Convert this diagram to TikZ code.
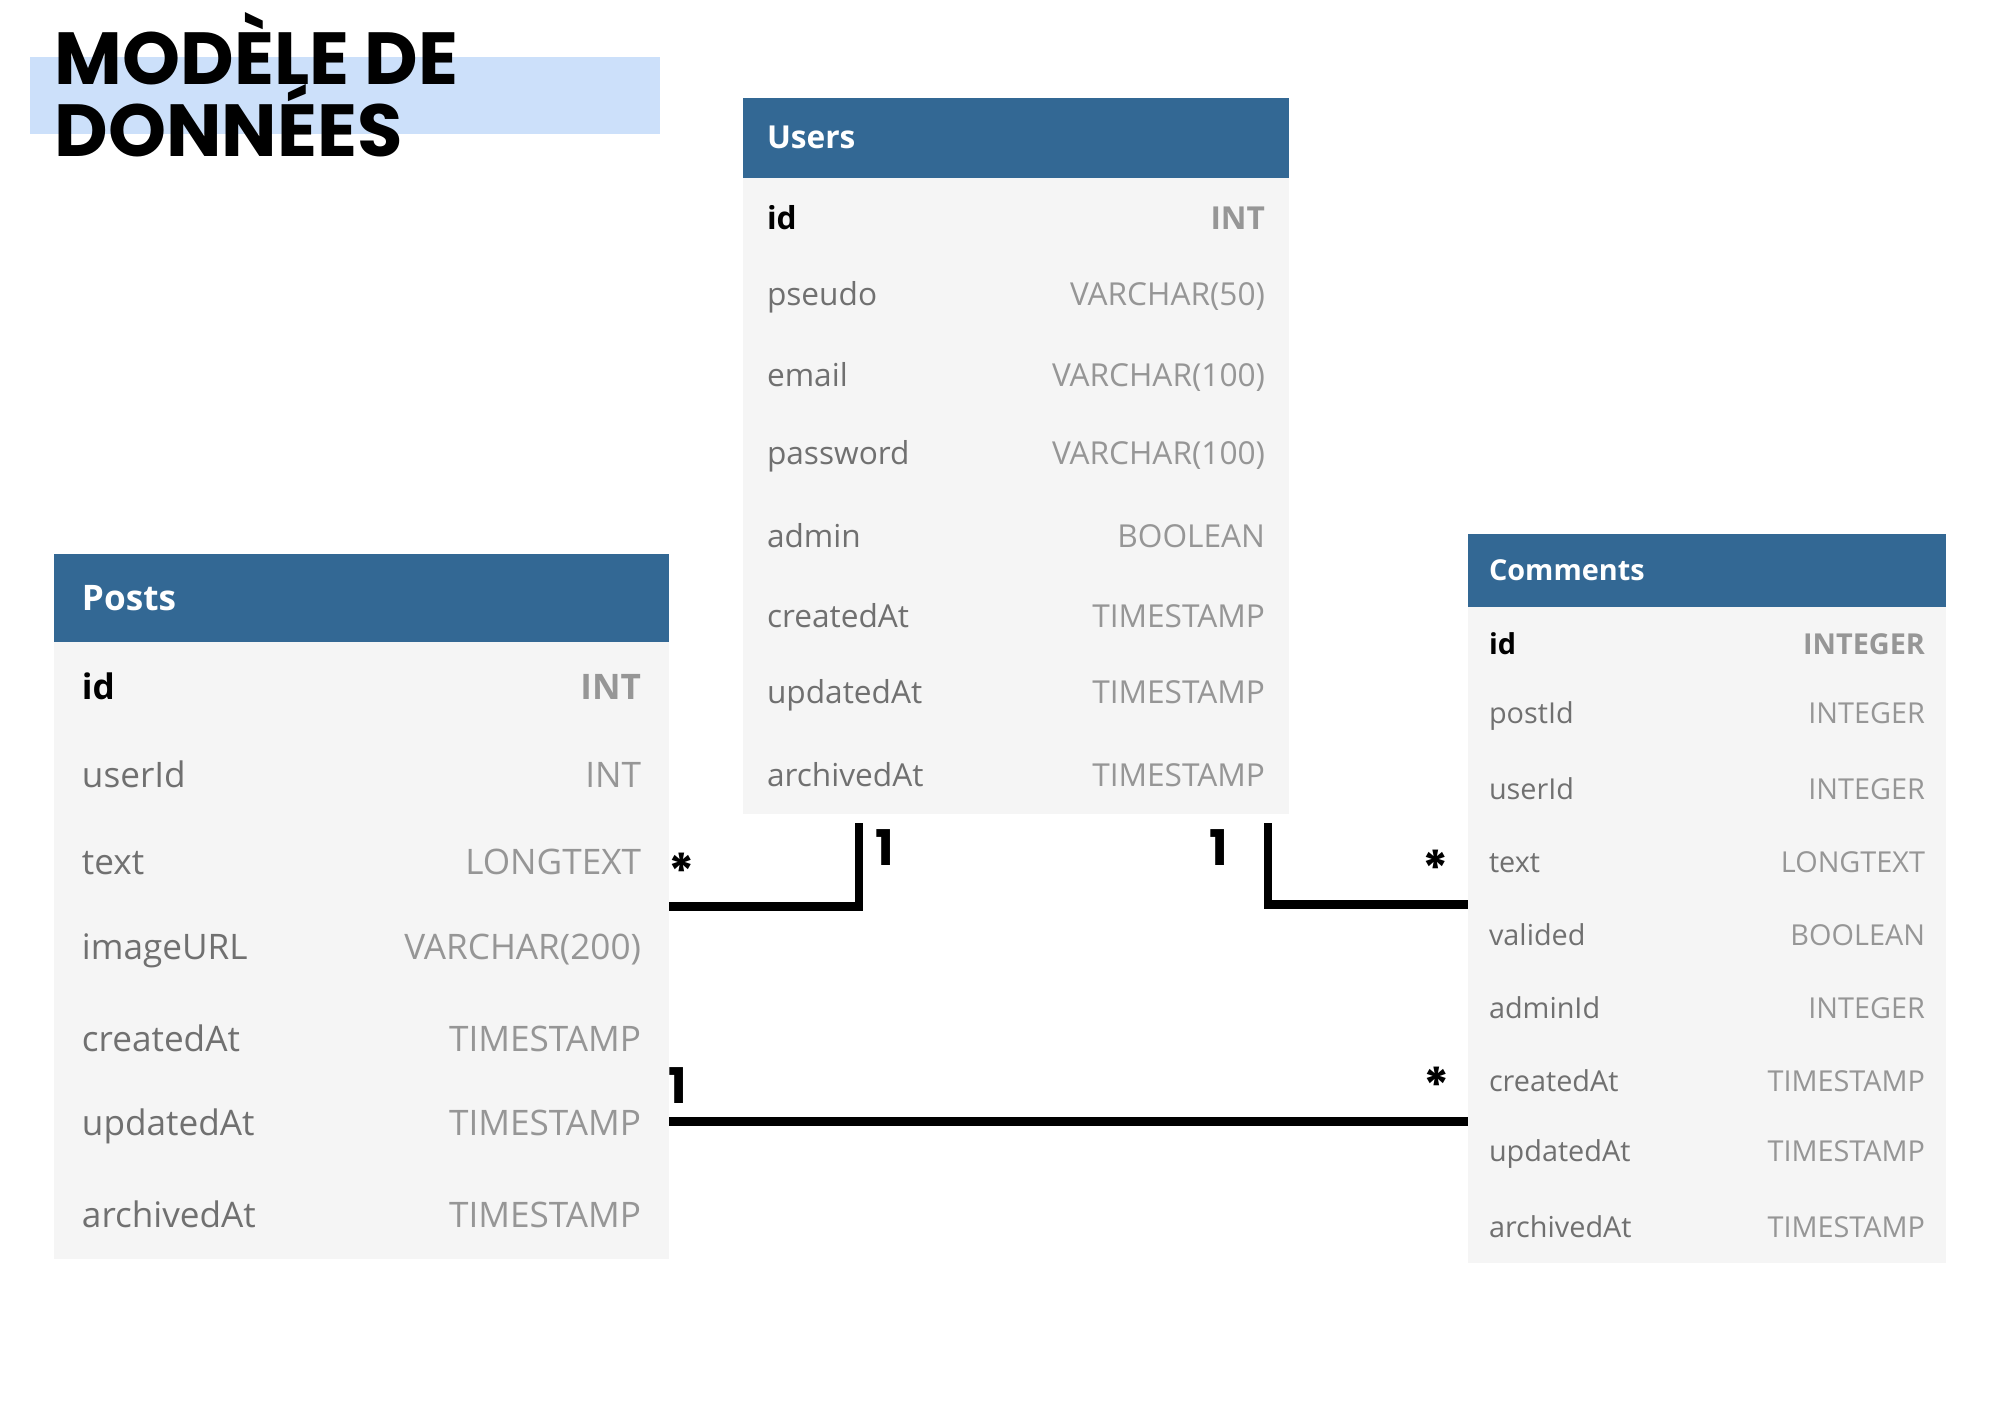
\documentclass[tikz,border=0pt]{standalone}
\usepackage{fontspec}
\setmainfont{Open Sans}
\newfontfamily\titlefont{Poppins}
\usetikzlibrary{positioning}
\definecolor{headblue}{RGB}{51,104,148}
\definecolor{rowgray}{RGB}{245,245,245}
\definecolor{namegray}{RGB}{112,112,112}
\definecolor{typegray}{RGB}{150,150,150}
\definecolor{bandblue}{RGB}{204,224,250}
\newcommand{\sqltype}[1]{{\color{typegray}#1}}
\newcommand{\keyfield}[2]{\textbf{\color{black}#1}\hfill\textbf{\sqltype{#2}}}
\tikzstyle{head} = [rectangle, fill=headblue, text=white, inner ysep=0pt, outer sep=0pt]
\tikzstyle{field} = [rectangle, fill=rowgray, text=namegray, inner ysep=0pt, outer sep=0pt]
\tikzstyle{usertab} = [text width=4.98cm, inner xsep=0.24cm, minimum height=0.796cm, font=\fontsize{9}{11}\selectfont]
\tikzstyle{posttab} = [text width=5.59cm, inner xsep=0.28cm, minimum height=0.881cm, font=\fontsize{10}{12}\selectfont]
\tikzstyle{commenttab} = [text width=4.36cm, inner xsep=0.21cm, minimum height=0.729cm, font=\fontsize{8.2}{10}\selectfont]
\tikzstyle{titletext} = [font=\titlefont\bfseries\fontsize{21}{21}\selectfont, inner sep=0pt, anchor=base west]
\tikzstyle{mult} = [font=\titlefont\bfseries\fontsize{14}{14}\selectfont, inner sep=0pt, anchor=base]
\tikzstyle{link} = [line width=2.4pt]
\begin{document}
\begin{tikzpicture}[node distance=0pt]
  \useasboundingbox (0,0) rectangle (20,-14.14);
  % title
  \node(band)[fill=bandblue, minimum width=6.30cm, minimum height=0.77cm, inner sep=0pt, anchor=north west] at (0.29,-0.56){};
  \node(title1)[titletext] at (0.54,-0.84){MODÈLE DE};
  \node(title2)[titletext] at (0.54,-1.56){DONNÉES};

  % Users
  \node(users)[head, usertab, anchor=north west] at (7.43,-0.98){\textbf{Users}};
  \node(uid)[field, usertab, below=of users]{\keyfield{id}{INT}};
  \node(upseudo)[field, usertab, below=of uid]{pseudo\hfill\sqltype{VARCHAR(50)}};
  \node(uemail)[field, usertab, below=of upseudo]{email\hfill\sqltype{VARCHAR(100)}};
  \node(upassword)[field, usertab, below=of uemail]{password\hfill\sqltype{VARCHAR(100)}};
  \node(uadmin)[field, usertab, below=of upassword]{admin\hfill\sqltype{BOOLEAN}};
  \node(ucreated)[field, usertab, below=of uadmin]{createdAt\hfill\sqltype{TIMESTAMP}};
  \node(uupdated)[field, usertab, below=of ucreated]{updatedAt\hfill\sqltype{TIMESTAMP}};
  \node(uarchived)[field, usertab, below=of uupdated]{archivedAt\hfill\sqltype{TIMESTAMP}};

  % Posts
  \node(posts)[head, posttab, anchor=north west] at (0.54,-5.54){\textbf{Posts}};
  \node(pid)[field, posttab, below=of posts]{\keyfield{id}{INT}};
  \node(puserid)[field, posttab, below=of pid]{userId\hfill\sqltype{INT}};
  \node(ptext)[field, posttab, below=of puserid]{text\hfill\sqltype{LONGTEXT}};
  \node(pimage)[field, posttab, below=of ptext]{imageURL\hfill\sqltype{VARCHAR(200)}};
  \node(pcreated)[field, posttab, below=of pimage]{createdAt\hfill\sqltype{TIMESTAMP}};
  \node(pupdated)[field, posttab, below=of pcreated]{updatedAt\hfill\sqltype{TIMESTAMP}};
  \node(parchived)[field, posttab, below=of pupdated]{archivedAt\hfill\sqltype{TIMESTAMP}};

  % Comments
  \node(comments)[head, commenttab, anchor=north west] at (14.68,-5.34){\textbf{Comments}};
  \node(cid)[field, commenttab, below=of comments]{\keyfield{id}{INTEGER}};
  \node(cpostid)[field, commenttab, below=of cid]{postId\hfill\sqltype{INTEGER}};
  \node(cuserid)[field, commenttab, below=of cpostid]{userId\hfill\sqltype{INTEGER}};
  \node(ctext)[field, commenttab, below=of cuserid]{text\hfill\sqltype{LONGTEXT}};
  \node(cvalided)[field, commenttab, below=of ctext]{valided\hfill\sqltype{BOOLEAN}};
  \node(cadmin)[field, commenttab, below=of cvalided]{adminId\hfill\sqltype{INTEGER}};
  \node(ccreated)[field, commenttab, below=of cadmin]{createdAt\hfill\sqltype{TIMESTAMP}};
  \node(cupdated)[field, commenttab, below=of ccreated]{updatedAt\hfill\sqltype{TIMESTAMP}};
  \node(carchived)[field, commenttab, below=of cupdated]{archivedAt\hfill\sqltype{TIMESTAMP}};

  % relations
  \draw[link] (ptext.south east) -| ([xshift=1.16cm, yshift=-0.09cm]uarchived.south west);
  \draw[link] ([xshift=-0.21cm, yshift=-0.09cm]uarchived.south east) |- ([yshift=-0.06cm]ctext.south west);
  \draw[link] ([yshift=0.05cm]pupdated.east) -- ([yshift=0.05cm]pupdated.east -| cupdated.west);

  \node(star1)[mult] at (6.82,-8.89){*};
  \node(one1)[mult] at (8.85,-8.65){1};
  \node(one2)[mult] at (12.19,-8.65){1};
  \node(star2)[mult] at (14.36,-8.86){*};
  \node(one3)[mult] at (6.78,-11.03){1};
  \node(star3)[mult] at (14.37,-11.03){*};
\end{tikzpicture}
\end{document}
